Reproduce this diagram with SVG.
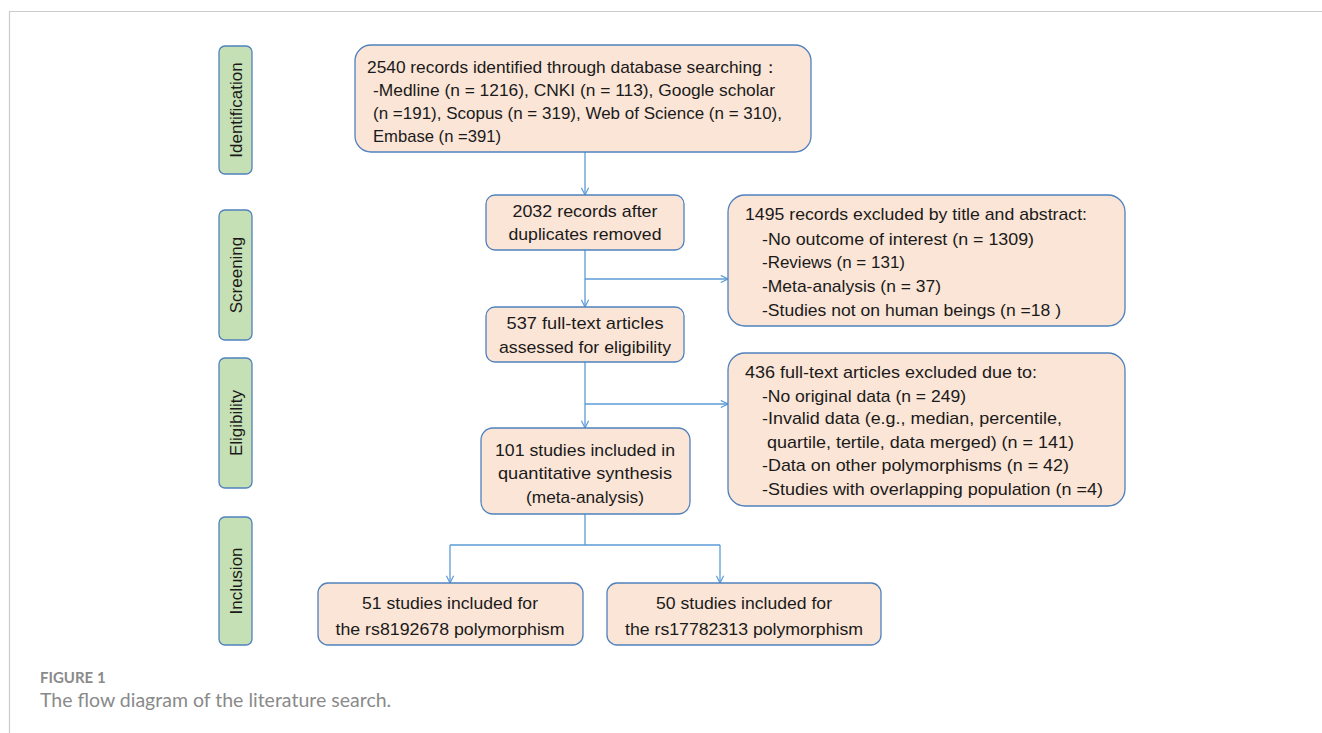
<svg xmlns="http://www.w3.org/2000/svg" width="1322" height="733" viewBox="0 0 1322 733">
<defs>
<style>
.box{fill:#fbe5d6;stroke:#4f81bd;stroke-width:1.3}
.stage{fill:#c5e0b4;stroke:#4f81bd;stroke-width:1.3}
.t{font-family:"Liberation Sans",Arial,sans-serif;font-size:17px;fill:#1a1a1a}
.c{text-anchor:middle}
.st{font-family:"Liberation Sans",Arial,sans-serif;font-size:17px;fill:#1a1a1a;text-anchor:middle}
.ln{stroke:#5b9bd5;stroke-width:1.3;fill:none}
.cap1{font-family:Lato,"Noto Sans",sans-serif;font-size:15px;font-weight:bold;fill:#8a8a8a}
.cap2{font-family:Lato,"Noto Sans",sans-serif;font-size:19.5px;fill:#8a8a8a}
</style>
<marker id="arr" viewBox="0 0 10 10" refX="9" refY="5" markerWidth="9" markerHeight="9" orient="auto" markerUnits="userSpaceOnUse">
<path d="M1,1 L9,5 L1,9" fill="none" stroke="#5b9bd5" stroke-width="1.3"/>
</marker>
</defs>
<rect width="1322" height="733" fill="#ffffff"/>
<path d="M9.5,733 V11.5 H1322" fill="none" stroke="#cccccc" stroke-width="1.2"/>

<g id="stage-identification">
<rect class="stage" x="219" y="46" width="33" height="128" rx="6"/>
<text class="st" transform="translate(242,110) rotate(-90)">Identification</text>
</g>
<g id="stage-screening">
<rect class="stage" x="219" y="210" width="33" height="130" rx="6"/>
<text class="st" transform="translate(242,275) rotate(-90)">Screening</text>
</g>
<g id="stage-eligibility">
<rect class="stage" x="219" y="358" width="33" height="130" rx="6"/>
<text class="st" transform="translate(242,423) rotate(-90)">Eligibility</text>
</g>
<g id="stage-inclusion">
<rect class="stage" x="219" y="517" width="33" height="128" rx="6"/>
<text class="st" transform="translate(242,581) rotate(-90)">Inclusion</text>
</g>

<g id="connectors">
<line class="ln" x1="585" y1="152" x2="585" y2="195" marker-end="url(#arr)"/>
<line class="ln" x1="585" y1="250" x2="585" y2="307" marker-end="url(#arr)"/>
<line class="ln" x1="585" y1="279" x2="728" y2="279" marker-end="url(#arr)"/>
<line class="ln" x1="585" y1="362" x2="585" y2="428" marker-end="url(#arr)"/>
<line class="ln" x1="585" y1="404" x2="728" y2="404" marker-end="url(#arr)"/>
<path class="ln" d="M585,514 V545 M450,545 H720"/>
<line class="ln" x1="450" y1="545" x2="450" y2="583" marker-end="url(#arr)"/>
<line class="ln" x1="720" y1="545" x2="720" y2="583" marker-end="url(#arr)"/>
</g>

<g id="identified">
<rect class="box" x="355" y="45" width="456" height="107" rx="16"/>
<text class="t" x="367" y="73" textLength="412" lengthAdjust="spacingAndGlyphs">2540 records identified through database searching：</text>
<text class="t" x="373" y="96" textLength="402" lengthAdjust="spacingAndGlyphs">-Medline (n = 1216), CNKI (n = 113), Google scholar</text>
<text class="t" x="373" y="119" textLength="409" lengthAdjust="spacingAndGlyphs">(n =191), Scopus (n = 319), Web of Science (n = 310),</text>
<text class="t" x="373" y="142" textLength="128" lengthAdjust="spacingAndGlyphs">Embase (n =391)</text>
</g>

<g id="deduplicated">
<rect class="box" x="486" y="195" width="198" height="55" rx="9"/>
<text class="t c" x="585" y="217" textLength="145" lengthAdjust="spacingAndGlyphs">2032 records after</text>
<text class="t c" x="585" y="240" textLength="153" lengthAdjust="spacingAndGlyphs">duplicates removed</text>
</g>

<g id="excluded-title">
<rect class="box" x="728" y="195" width="397" height="131" rx="17"/>
<text class="t" x="745" y="220" textLength="342" lengthAdjust="spacingAndGlyphs">1495 records excluded by title and abstract:</text>
<text class="t" x="762" y="245" textLength="272" lengthAdjust="spacingAndGlyphs">-No outcome of interest (n = 1309)</text>
<text class="t" x="762" y="268" textLength="143" lengthAdjust="spacingAndGlyphs">-Reviews (n = 131)</text>
<text class="t" x="762" y="292" textLength="179" lengthAdjust="spacingAndGlyphs">-Meta-analysis (n = 37)</text>
<text class="t" x="762" y="316" textLength="299" lengthAdjust="spacingAndGlyphs">-Studies not on human beings (n =18 )</text>
</g>

<g id="fulltext">
<rect class="box" x="486" y="307" width="198" height="55" rx="9"/>
<text class="t c" x="585" y="329" textLength="157" lengthAdjust="spacingAndGlyphs">537 full-text articles</text>
<text class="t c" x="585" y="353" textLength="172" lengthAdjust="spacingAndGlyphs">assessed for eligibility</text>
</g>

<g id="excluded-fulltext">
<rect class="box" x="728" y="353" width="397" height="153" rx="17"/>
<text class="t" x="745" y="378" textLength="292" lengthAdjust="spacingAndGlyphs">436 full-text articles excluded due to:</text>
<text class="t" x="762" y="402" textLength="204" lengthAdjust="spacingAndGlyphs">-No original data (n = 249)</text>
<text class="t" x="762" y="424" textLength="300" lengthAdjust="spacingAndGlyphs">-Invalid data (e.g., median, percentile,</text>
<text class="t" x="767" y="448" textLength="307" lengthAdjust="spacingAndGlyphs">quartile, tertile, data merged) (n = 141)</text>
<text class="t" x="762" y="471" textLength="307" lengthAdjust="spacingAndGlyphs">-Data on other polymorphisms (n = 42)</text>
<text class="t" x="762" y="495" textLength="341" lengthAdjust="spacingAndGlyphs">-Studies with overlapping population (n =4)</text>
</g>

<g id="included">
<rect class="box" x="481" y="428" width="209" height="86" rx="12"/>
<text class="t c" x="585" y="456" textLength="180" lengthAdjust="spacingAndGlyphs">101 studies included in</text>
<text class="t c" x="585" y="479" textLength="174" lengthAdjust="spacingAndGlyphs">quantitative synthesis</text>
<text class="t c" x="585" y="503" textLength="118" lengthAdjust="spacingAndGlyphs">(meta-analysis)</text>
</g>

<g id="rs8192678">
<rect class="box" x="318" y="583" width="265" height="62" rx="10"/>
<text class="t c" x="450" y="609" textLength="176" lengthAdjust="spacingAndGlyphs">51 studies included for</text>
<text class="t c" x="450" y="635" textLength="229" lengthAdjust="spacingAndGlyphs">the rs8192678 polymorphism</text>
</g>

<g id="rs17782313">
<rect class="box" x="607" y="583" width="274" height="62" rx="10"/>
<text class="t c" x="744" y="609" textLength="176" lengthAdjust="spacingAndGlyphs">50 studies included for</text>
<text class="t c" x="744" y="635" textLength="238" lengthAdjust="spacingAndGlyphs">the rs17782313 polymorphism</text>
</g>

<g id="caption">
<text class="cap1" x="40" y="683">FIGURE 1</text>
<text class="cap2" x="40" y="707">The flow diagram of the literature search.</text>
</g>
</svg>
